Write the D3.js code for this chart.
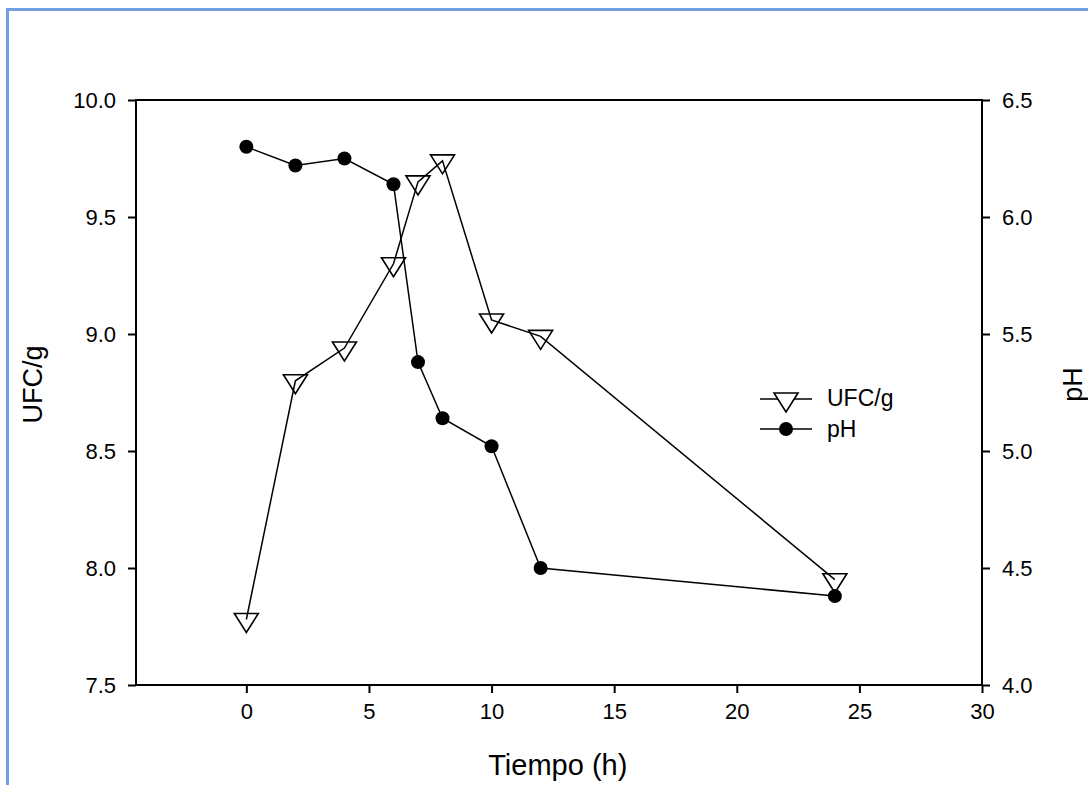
<!DOCTYPE html>
<html>
<head>
<meta charset="utf-8">
<script src="https://cdn.jsdelivr.net/npm/d3@7"></script>
<style>
  html, body { margin: 0; padding: 0; background: #fff; }
  svg { display: block; font-family: Arial, "Liberation Sans", sans-serif; }
</style>
</head>
<body>
<div id="chart"></div>
<script>
'use strict';

// Data
var hours = [0, 2, 4, 6, 7, 8, 10, 12, 24];
var ufc = [7.78, 8.80, 8.94, 9.30, 9.65, 9.74, 9.06, 8.99, 7.95];
var ph = [6.30, 6.22, 6.25, 6.14, 5.38, 5.14, 5.02, 4.50, 4.38];

var xTicks = [0, 5, 10, 15, 20, 25, 30];
var leftTicks = [7.5, 8.0, 8.5, 9.0, 9.5, 10.0];
var rightTicks = [4.0, 4.5, 5.0, 5.5, 6.0, 6.5];

(function() {
    var W = 1088, H = 785;
    var margin = { left: 136, right: 106, top: 100, bottom: 100 };
    var width = W - margin.left - margin.right,
        height = H - margin.top - margin.bottom;

    var svg = d3.select("#chart")
        .append("svg")
            .attr("width", W)
            .attr("height", H);

    // blue frame (cut off at right and bottom)
    svg.append("rect")
        .attr("x", 7.5)
        .attr("y", 9.5)
        .attr("width", W + 20)
        .attr("height", H + 20)
        .attr("fill", "none")
        .attr("stroke", "#6f9fe0")
        .attr("stroke-width", 3);

    var g = svg.append("g")
        .attr("transform", "translate(" + margin.left + "," + margin.top + ")");

    var x = d3.scaleLinear().domain([-4.5, 30]).range([0, width]);
    var yL = d3.scaleLinear().domain([7.5, 10]).range([height, 0]);
    var yR = d3.scaleLinear().domain([4, 6.5]).range([height, 0]);

    // axes
    var xAxis = g.append("g")
        .attr("transform", "translate(0," + height + ")")
        .call(d3.axisBottom(x).tickValues(xTicks).tickSize(8).tickPadding(10).tickFormat(d3.format("d")));
    var lAxis = g.append("g")
        .call(d3.axisLeft(yL).tickValues(leftTicks).tickSize(8).tickPadding(12).tickFormat(d3.format(".1f")));
    var rAxis = g.append("g")
        .attr("transform", "translate(" + width + ",0)")
        .call(d3.axisRight(yR).tickValues(rightTicks).tickSize(8).tickPadding(12).tickFormat(d3.format(".1f")));

    [xAxis, lAxis, rAxis].forEach(function(a) {
        a.select(".domain").remove();
        a.selectAll("line").attr("stroke", "#000").attr("stroke-width", 2);
        a.selectAll("text")
            .attr("fill", "#000")
            .attr("font-size", "22px")
            .attr("font-family", "Arial, 'Liberation Sans', sans-serif");
    });

    // frame
    g.append("rect")
        .attr("width", width)
        .attr("height", height)
        .attr("fill", "none")
        .attr("stroke", "#000")
        .attr("stroke-width", 2);

    // axis titles
    g.append("text")
        .attr("x", x(12.7))
        .attr("y", height + 90)
        .attr("text-anchor", "middle")
        .attr("font-size", "29px")
        .text("Tiempo (h)");

    g.append("text")
        .attr("transform", "translate(" + (-94) + "," + (height / 2 - 8) + ") rotate(-90)")
        .attr("text-anchor", "middle")
        .attr("font-size", "27px")
        .text("UFC/g");

    g.append("text")
        .attr("transform", "translate(" + (width + 100) + "," + (height / 2 - 8) + ") rotate(-90)")
        .attr("text-anchor", "middle")
        .attr("font-size", "27px")
        .text("pH");

    var ufcData = hours.map(function(h, i) { return { x: h, y: ufc[i] }; });
    var phData = hours.map(function(h, i) { return { x: h, y: ph[i] }; });

    var tri = "M-12,-6L12,-6L0,13Z";

    // pH series
    g.selectAll(".dot")
        .data(phData)
        .enter()
        .append("circle")
            .attr("cx", function(d) { return x(d.x); })
            .attr("cy", function(d) { return yR(d.y); })
            .attr("r", 7)
            .attr("fill", "#000");

    g.append("path")
        .datum(phData)
        .attr("fill", "none")
        .attr("stroke", "#000")
        .attr("stroke-width", 1.5)
        .attr("d", d3.line().x(function(d) { return x(d.x); }).y(function(d) { return yR(d.y); }));

    // UFC series
    g.selectAll(".tri")
        .data(ufcData)
        .enter()
        .append("path")
            .attr("d", tri)
            .attr("transform", function(d) { return "translate(" + x(d.x) + "," + yL(d.y) + ")"; })
            .attr("fill", "none")
            .attr("stroke", "#000")
            .attr("stroke-width", 1.6);

    g.append("path")
        .datum(ufcData)
        .attr("fill", "none")
        .attr("stroke", "#000")
        .attr("stroke-width", 1.5)
        .attr("d", d3.line().x(function(d) { return x(d.x); }).y(function(d) { return yL(d.y); }));

    // legend
    var leg = svg.append("g").attr("transform", "translate(760,0)");
    leg.append("line").attr("x1", 0).attr("x2", 52).attr("y1", 399).attr("y2", 399)
        .attr("stroke", "#000").attr("stroke-width", 1.5);
    leg.append("path").attr("d", tri).attr("transform", "translate(26,399)")
        .attr("fill", "#fff").attr("stroke", "#000").attr("stroke-width", 1.6);
    leg.append("text").attr("x", 67).attr("y", 406).attr("font-size", "23px").text("UFC/g");

    leg.append("line").attr("x1", 0).attr("x2", 52).attr("y1", 429).attr("y2", 429)
        .attr("stroke", "#000").attr("stroke-width", 1.5);
    leg.append("circle").attr("cx", 26).attr("cy", 429).attr("r", 7).attr("fill", "#000");
    leg.append("text").attr("x", 67).attr("y", 437).attr("font-size", "23px").text("pH");
})();
</script>
</body>
</html>
